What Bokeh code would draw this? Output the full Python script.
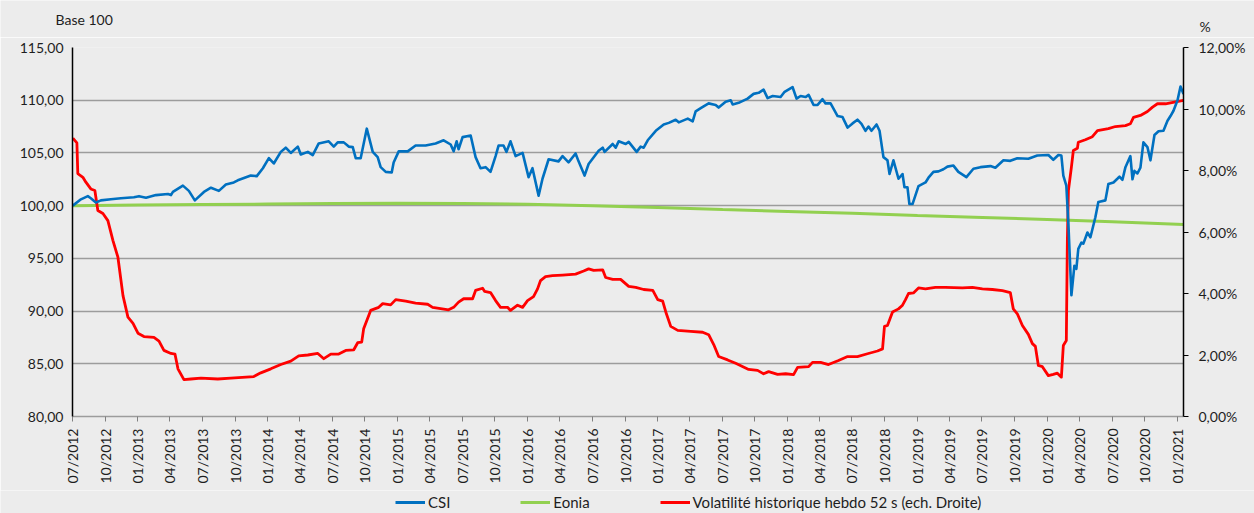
import datetime as dt
from bokeh.plotting import figure
from bokeh.layouts import column
from bokeh.models import (Range1d, LinearAxis, FixedTicker, CustomJSTickFormatter,
                          DatetimeTickFormatter, Legend, LegendItem, Label)
from bokeh.embed import file_html
from bokeh.resources import INLINE
from math import pi

# ---------------- data (decimal years) ----------------
csi_t = [2012.500, 2012.562, 2012.615, 2012.638, 2012.677, 2012.715, 2012.792, 2012.869, 2012.969, 2013.008,
         2013.062, 2013.138, 2013.231, 2013.254, 2013.269, 2013.346, 2013.392, 2013.438, 2013.508, 2013.562,
         2013.623, 2013.677, 2013.738, 2013.769, 2013.869, 2013.915, 2013.962, 2014.008, 2014.046, 2014.100,
         2014.138, 2014.177, 2014.231, 2014.254, 2014.308, 2014.346, 2014.392, 2014.469, 2014.508, 2014.538,
         2014.585, 2014.623, 2014.654, 2014.677, 2014.715, 2014.762, 2014.808, 2014.846, 2014.869, 2014.908,
         2014.954, 2014.969, 2015.008, 2015.077, 2015.138, 2015.215, 2015.292, 2015.354, 2015.408, 2015.431,
         2015.454, 2015.469, 2015.500, 2015.562, 2015.600, 2015.638, 2015.677, 2015.715, 2015.754, 2015.777,
         2015.815, 2015.838, 2015.869, 2015.908, 2015.962, 2016.008, 2016.038, 2016.085, 2016.115, 2016.162,
         2016.238, 2016.269, 2016.315, 2016.369, 2016.392, 2016.438, 2016.469, 2016.546, 2016.577, 2016.592,
         2016.654, 2016.677, 2016.700, 2016.754, 2016.777, 2016.838, 2016.869, 2016.892, 2016.923, 2016.985,
         2017.046, 2017.085, 2017.138, 2017.162, 2017.231, 2017.269, 2017.292, 2017.331, 2017.392, 2017.446,
         2017.469, 2017.523, 2017.562, 2017.577, 2017.623, 2017.692, 2017.738, 2017.777, 2017.815, 2017.846,
         2017.885, 2017.946, 2017.977, 2018.038, 2018.069, 2018.100, 2018.138, 2018.162, 2018.200, 2018.231,
         2018.269, 2018.292, 2018.331, 2018.385, 2018.423, 2018.462, 2018.500, 2018.538, 2018.569, 2018.600,
         2018.623, 2018.646, 2018.685, 2018.708, 2018.738, 2018.769, 2018.785, 2018.815, 2018.854, 2018.885,
         2018.900, 2018.923, 2018.938, 2018.962, 2019.008, 2019.062, 2019.085, 2019.123, 2019.162, 2019.200,
         2019.231, 2019.277, 2019.315, 2019.377, 2019.431, 2019.485, 2019.562, 2019.600, 2019.662, 2019.715,
         2019.769, 2019.854, 2019.923, 2020.008, 2020.046, 2020.085, 2020.108, 2020.123, 2020.146, 2020.162,
         2020.185, 2020.208, 2020.223, 2020.238, 2020.262, 2020.277, 2020.308, 2020.331, 2020.369, 2020.392,
         2020.446, 2020.469, 2020.508, 2020.538, 2020.554, 2020.577, 2020.600, 2020.638, 2020.654, 2020.669,
         2020.692, 2020.715, 2020.738, 2020.769, 2020.792, 2020.823, 2020.854, 2020.892, 2020.923, 2020.946,
         2020.969, 2021.000, 2021.023, 2021.046]
csi_v = [100.0, 100.6, 100.9, 100.7, 100.3, 100.5, 100.6, 100.7, 100.8, 100.9,
         100.75, 101.0, 101.1, 101.0, 101.3, 101.9, 101.4, 100.5, 101.3, 101.7,
         101.4, 102.0, 102.2, 102.4, 102.85, 102.8, 103.55, 104.5, 104.0, 105.1,
         105.5, 105.0, 105.6, 104.85, 105.1, 104.8, 105.9, 106.1, 105.6, 106.0,
         106.0, 105.6, 105.55, 104.5, 104.5, 107.3, 105.1, 104.6, 103.65, 103.2,
         103.15, 104.1, 105.15, 105.15, 105.7, 105.7, 105.9, 106.2, 105.8, 105.15,
         106.1, 105.35, 106.5, 106.65, 104.6, 103.55, 103.65, 103.2, 104.7, 105.7,
         105.7, 105.1, 106.1, 104.7, 105.0, 102.7, 103.55, 100.95, 102.55, 104.4,
         104.2, 104.7, 104.1, 104.95, 104.2, 102.85, 103.95, 105.2, 105.5, 105.1,
         105.85, 105.5, 106.1, 105.85, 106.05, 105.1, 105.6, 105.5, 106.2, 107.1,
         107.7, 107.85, 108.15, 107.9, 108.25, 108.0, 108.95, 109.25, 109.7, 109.55,
         109.3, 109.85, 110.0, 109.6, 109.75, 110.15, 110.6, 110.7, 111.0, 110.2,
         110.4, 110.3, 110.8, 111.25, 110.15, 110.4, 110.3, 110.5, 109.55, 109.55,
         110.1, 109.7, 109.7, 108.5, 108.4, 107.4, 107.8, 108.15, 107.75, 107.1,
         107.5, 107.1, 107.7, 107.1, 104.6, 104.3, 103.0, 104.3, 102.55, 103.0,
         101.75, 101.75, 100.15, 100.15, 101.85, 102.2, 102.65, 103.2, 103.25, 103.45,
         103.7, 103.8, 103.2, 102.7, 103.5, 103.65, 103.75, 103.6, 104.3, 104.25,
         104.5, 104.45, 104.75, 104.8, 104.35, 104.8, 104.75, 102.85, 101.9, 98.25,
         91.5, 94.3, 94.0, 95.9, 96.5, 96.4, 97.45, 97.0, 98.9, 100.35,
         100.5, 102.05, 102.2, 102.55, 102.75, 102.45, 103.65, 104.7, 102.5, 103.3,
         103.05, 103.6, 106.0, 105.55, 104.3, 106.7, 107.05, 107.1, 108.05, 108.5,
         109.0, 110.0, 111.3, 110.6]

eonia_t = [2012.5, 2013.0, 2013.5, 2014.0, 2014.5, 2015.0, 2015.5, 2016.0, 2016.5,
           2017.0, 2017.5, 2018.0, 2018.5, 2019.0, 2019.5, 2020.0, 2020.5, 2021.046]
eonia_v = [100.00, 100.05, 100.10, 100.15, 100.20, 100.22, 100.20, 100.13, 100.00,
           99.82, 99.63, 99.45, 99.27, 99.07, 98.88, 98.68, 98.47, 98.22]

vol_t = [2012.500, 2012.531, 2012.538, 2012.577, 2012.600, 2012.638, 2012.669, 2012.692, 2012.731, 2012.769,
         2012.808, 2012.846, 2012.885, 2012.923, 2012.962, 2013.000, 2013.046, 2013.123, 2013.162, 2013.200,
         2013.254, 2013.285, 2013.308, 2013.354, 2013.408, 2013.485, 2013.615, 2013.715, 2013.892, 2013.946,
         2014.023, 2014.100, 2014.177, 2014.238, 2014.308, 2014.385, 2014.431, 2014.485, 2014.546, 2014.600,
         2014.662, 2014.692, 2014.723, 2014.738, 2014.792, 2014.854, 2014.885, 2014.946, 2014.985, 2015.062,
         2015.138, 2015.231, 2015.269, 2015.392, 2015.431, 2015.469, 2015.508, 2015.577, 2015.600, 2015.654,
         2015.669, 2015.715, 2015.754, 2015.792, 2015.846, 2015.869, 2015.923, 2015.962, 2016.000, 2016.046,
         2016.077, 2016.100, 2016.138, 2016.192, 2016.269, 2016.369, 2016.431, 2016.469, 2016.508, 2016.577,
         2016.600, 2016.654, 2016.715, 2016.777, 2016.831, 2016.892, 2016.962, 2017.000, 2017.038, 2017.062,
         2017.100, 2017.154, 2017.254, 2017.346, 2017.392, 2017.431, 2017.469, 2017.538, 2017.600, 2017.700,
         2017.769, 2017.815, 2017.854, 2017.923, 2017.985, 2018.046, 2018.077, 2018.162, 2018.192, 2018.254,
         2018.315, 2018.392, 2018.462, 2018.538, 2018.615, 2018.692, 2018.731, 2018.746, 2018.769, 2018.808,
         2018.854, 2018.885, 2018.908, 2018.931, 2018.969, 2019.008, 2019.062, 2019.138, 2019.215, 2019.346,
         2019.423, 2019.500, 2019.577, 2019.654, 2019.715, 2019.738, 2019.769, 2019.808, 2019.854, 2019.885,
         2019.908, 2019.931, 2019.962, 2020.008, 2020.046, 2020.077, 2020.108, 2020.123, 2020.146, 2020.154,
         2020.162, 2020.185, 2020.200, 2020.231, 2020.238, 2020.292, 2020.346, 2020.385, 2020.469, 2020.523,
         2020.600, 2020.638, 2020.662, 2020.715, 2020.769, 2020.808, 2020.846, 2020.908, 2020.985, 2021.046]
vol_v = [9.05, 8.9, 7.9, 7.78, 7.62, 7.4, 7.35, 6.7, 6.6, 6.37,
         5.72, 5.18, 3.93, 3.23, 3.03, 2.71, 2.6, 2.57, 2.45, 2.15,
         2.05, 2.03, 1.55, 1.2, 1.22, 1.25, 1.22, 1.25, 1.3, 1.42,
         1.55, 1.69, 1.8, 1.97, 2.0, 2.05, 1.88, 2.03, 2.03, 2.15,
         2.17, 2.4, 2.42, 2.85, 3.45, 3.55, 3.67, 3.63, 3.8, 3.75,
         3.69, 3.65, 3.55, 3.47, 3.55, 3.72, 3.83, 3.83, 4.1, 4.17,
         4.07, 4.03, 3.77, 3.55, 3.55, 3.45, 3.62, 3.55, 3.77, 3.9,
         4.15, 4.42, 4.55, 4.58, 4.6, 4.63, 4.73, 4.8, 4.75, 4.77,
         4.52, 4.46, 4.46, 4.23, 4.2, 4.13, 4.1, 3.8, 3.75, 3.4,
         2.93, 2.8, 2.77, 2.74, 2.66, 2.34, 1.95, 1.84, 1.73, 1.53,
         1.5, 1.39, 1.46, 1.37, 1.39, 1.36, 1.6, 1.62, 1.76, 1.76,
         1.69, 1.82, 1.95, 1.95, 2.04, 2.13, 2.2, 2.93, 2.96, 3.4,
         3.5, 3.62, 3.8, 4.0, 4.02, 4.18, 4.15, 4.2, 4.2, 4.18,
         4.2, 4.15, 4.13, 4.09, 4.03, 3.5, 3.34, 2.96, 2.67, 2.37,
         2.28, 1.66, 1.62, 1.33, 1.37, 1.41, 1.28, 2.31, 2.47, 5.72,
         7.35, 8.11, 8.65, 8.72, 8.92, 9.0, 9.1, 9.3, 9.36, 9.43,
         9.46, 9.52, 9.73, 9.79, 9.92, 10.06, 10.17, 10.17, 10.23, 10.28]

left_ticks = [80, 85, 90, 95, 100, 105, 110, 115]
right_ticks = [0, 2, 4, 6, 8, 10, 12]
series_names = ["CSI", "Eonia", "Volatilité historique hebdo 52 s (ech. Droite)"]
series_colors = ["#0070C0", "#92D050", "#FF0000"]
left_title = "Base 100"
right_title = "%"

# ---------------- helpers ----------------
def to_dt(t):
    y = int(t)
    s, e = dt.datetime(y, 1, 1), dt.datetime(y + 1, 1, 1)
    return s + (e - s) * (t - y)

EPOCH = dt.datetime(1970, 1, 1)
def ms(d):
    return (d - EPOCH).total_seconds() * 1000.0

quarter_ticks = []
y, m = 2012, 7
while (y, m) <= (2021, 1):
    quarter_ticks.append(ms(dt.datetime(y, m, 1)))
    m += 3
    if m > 12:
        m -= 12
        y += 1

FONT = "Lato"
TXT = "#1e1e1e"
BG = "#ECECEC"
W = 1254
TOP_H, LEG_H = 37, 23
MAIN_H = 513 - TOP_H - LEG_H   # 453

def bare_fig(h):
    f = figure(width=W, height=h, x_range=Range1d(0, W), y_range=Range1d(0, h),
               x_axis_location=None, y_axis_location=None, min_border=0,
               output_backend="svg", toolbar_location=None)
    f.frame_align = False
    f.background_fill_color = BG
    f.border_fill_color = BG
    f.outline_line_color = None
    f.grid.visible = False
    return f

# ---------------- top strip: axis titles ----------------
top = bare_fig(TOP_H)
top.add_layout(Label(x=55, y=TOP_H - 19, text=left_title, text_font=FONT, text_font_size="14px",
                     text_color=TXT, text_baseline="middle", text_align="left"))
top.add_layout(Label(x=1199, y=TOP_H - 26, text=right_title, text_font=FONT, text_font_size="14px",
                     text_color=TXT, text_baseline="middle", text_align="left"))

# ---------------- main chart ----------------
x_start = dt.datetime(2012, 7, 1)
x_end = to_dt(2021.046)

p = figure(width=W, height=MAIN_H, x_axis_type="datetime",
           x_range=Range1d(x_start, x_end), y_range=Range1d(80, 115),
           output_backend="svg", toolbar_location=None,
           min_border_left=72, min_border_right=71, min_border_top=10, min_border_bottom=74)
p.frame_align = False
p.background_fill_color = BG
p.border_fill_color = BG
p.outline_line_color = None
p.extra_y_ranges = {"vol": Range1d(0, 12)}

p.xgrid.grid_line_color = None
p.ygrid.ticker = FixedTicker(ticks=left_ticks)
p.ygrid.grid_line_color = "#9C9C9C"
p.ygrid.grid_line_width = 1.5

def style_labels(ax):
    ax.major_label_text_font = FONT
    ax.major_label_text_font_size = "14px"
    ax.major_label_text_color = TXT
    ax.minor_tick_line_color = None

ya = p.yaxis[0]
ya.ticker = FixedTicker(ticks=left_ticks)
ya.formatter = CustomJSTickFormatter(code="return tick.toFixed(2).replace('.', ',');")
ya.axis_line_color = "#000000"
ya.axis_line_width = 1.5
ya.major_tick_out = 0
ya.major_tick_in = 0
ya.major_label_standoff = 9
style_labels(ya)

ra = LinearAxis(y_range_name="vol", ticker=FixedTicker(ticks=right_ticks),
                formatter=CustomJSTickFormatter(code="return tick.toFixed(2).replace('.', ',') + '%';"))
ra.axis_line_color = "#000000"
ra.axis_line_width = 1.5
ra.major_tick_out = 5
ra.major_tick_in = 0
ra.major_tick_line_color = "#000000"
ra.major_label_standoff = 10
style_labels(ra)
p.add_layout(ra, "right")

xa = p.xaxis[0]
xa.ticker = FixedTicker(ticks=quarter_ticks)
fmt = "%m/%Y"
xa.formatter = DatetimeTickFormatter(years=fmt, months=fmt, days=fmt, hours=fmt, minutes=fmt,
                                     seconds=fmt, milliseconds=fmt, microseconds=fmt, hourmin=fmt,
                                     minsec=fmt)
xa.major_label_orientation = pi / 2
xa.axis_line_color = "#9C9C9C"
xa.axis_line_width = 1.5
xa.major_tick_line_color = "#808080"
xa.major_tick_out = 5
xa.major_tick_in = 0
xa.major_label_standoff = 7
style_labels(xa)

r_csi = p.line([to_dt(t) for t in csi_t], csi_v, line_color=series_colors[0], line_width=2.6,
               line_join="round")
r_eon = p.line([to_dt(t) for t in eonia_t], eonia_v, line_color=series_colors[1], line_width=3)
r_vol = p.line([to_dt(t) for t in vol_t], vol_v, line_color=series_colors[2], line_width=2.8,
               y_range_name="vol", line_join="round")
p.renderers = [r_eon, r_vol, r_csi]

# ---------------- bottom strip: legend ----------------
leg = bare_fig(LEG_H)
leg_items = []
for name, col in zip(series_names, series_colors):
    # proxy renderers kept outside the visible strip; only their legend swatch is shown
    r = leg.line([-100, -90], [-100, -100], line_color=col, line_width=3)
    leg_items.append(LegendItem(label=name, renderers=[r]))
legend = Legend(items=leg_items, orientation="horizontal", location=(395, 2),
                glyph_width=30, glyph_height=16, label_height=16, label_width=10,
                label_standoff=3, spacing=70, padding=0, margin=0,
                background_fill_alpha=0, border_line_color=None,
                label_text_font=FONT, label_text_font_size="15px", label_text_color=TXT)
leg.add_layout(legend, "center")

layout = column(top, p, leg, spacing=0)
open("out.html", "w").write(file_html(layout, INLINE))
